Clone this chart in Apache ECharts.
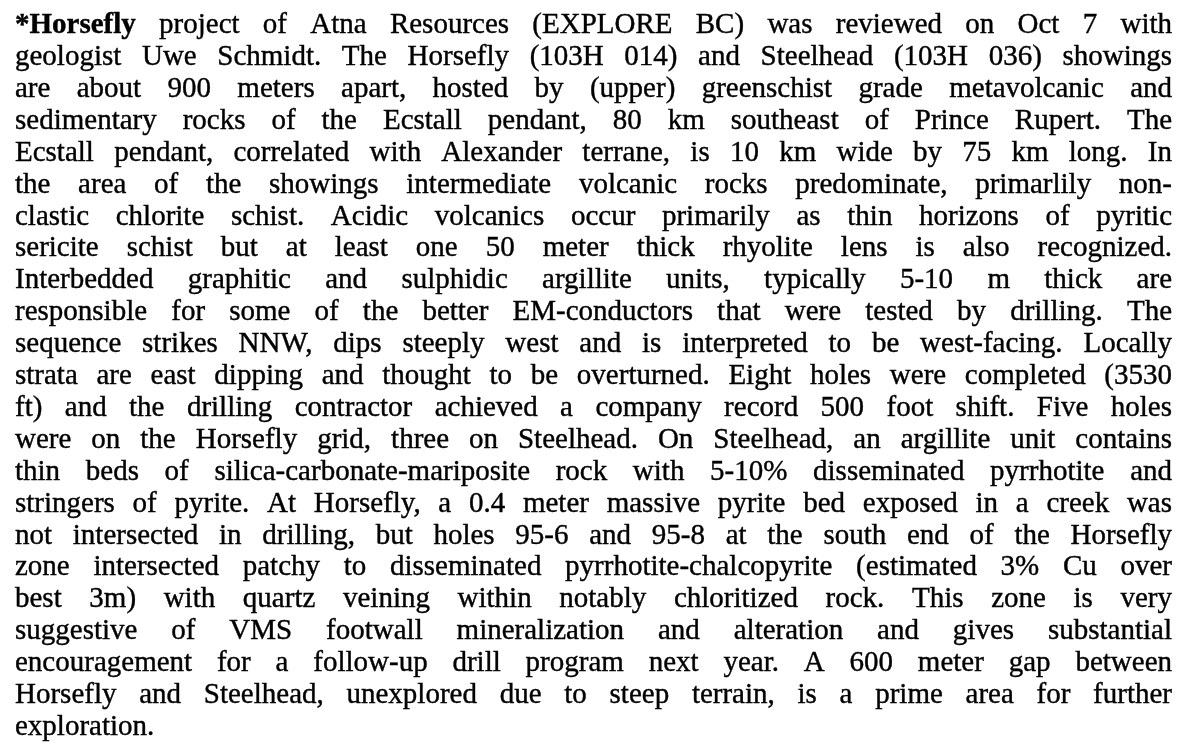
<!DOCTYPE html>
<html>
<head>
<meta charset="utf-8">
<script src="https://cdn.jsdelivr.net/npm/echarts@6/dist/echarts.min.js"></script>
<style>
  html, body { margin: 0; padding: 0; background: #fff; }
  #chart { width: 1183px; height: 744px; }
</style>
</head>
<body>
<div id="chart"></div>
<script>
// 段落的每一行（照原图换行）
const lines = [
  '*Horsefly project of Atna Resources (EXPLORE BC) was reviewed on Oct 7 with',
  'geologist Uwe Schmidt. The Horsefly (103H 014) and Steelhead (103H 036) showings',
  'are about 900 meters apart, hosted by (upper) greenschist grade metavolcanic and',
  'sedimentary rocks of the Ecstall pendant, 80 km southeast of Prince Rupert. The',
  'Ecstall pendant, correlated with Alexander terrane, is 10 km wide by 75 km long. In',
  'the area of the showings intermediate volcanic rocks predominate, primarlily non-',
  'clastic chlorite schist. Acidic volcanics occur primarily as thin horizons of pyritic',
  'sericite schist but at least one 50 meter thick rhyolite lens is also recognized.',
  'Interbedded graphitic and sulphidic argillite units, typically 5-10 m thick are',
  'responsible for some of the better EM-conductors that were tested by drilling. The',
  'sequence strikes NNW, dips steeply west and is interpreted to be west-facing. Locally',
  'strata are east dipping and thought to be overturned. Eight holes were completed (3530',
  'ft) and the drilling contractor achieved a company record 500 foot shift. Five holes',
  'were on the Horsefly grid, three on Steelhead. On Steelhead, an argillite unit contains',
  'thin beds of silica-carbonate-mariposite rock with 5-10% disseminated pyrrhotite and',
  'stringers of pyrite. At Horsefly, a 0.4 meter massive pyrite bed exposed in a creek was',
  'not intersected in drilling, but holes 95-6 and 95-8 at the south end of the Horsefly',
  'zone intersected patchy to disseminated pyrrhotite-chalcopyrite (estimated 3% Cu over',
  'best 3m) with quartz veining within notably chloritized rock. This zone is very',
  'suggestive of VMS footwall mineralization and alteration and gives substantial',
  'encouragement for a follow-up drill program next year. A 600 meter gap between',
  'Horsefly and Steelhead, unexplored due to steep terrain, is a prime area for further',
  'exploration.'
]
// 加粗的词
const boldWords = ['*Horsefly']

const left = 15
const right = 1172
const firstTop = 11
const lineGap = 31.9
const fontSize = 29
const family = "'Liberation Serif', 'DejaVu Serif', serif"

const ctx = document.createElement('canvas').getContext('2d')
const measure = (word, bold) => {
  ctx.font = (bold ? 'bold ' : '') + fontSize + 'px ' + family
  return ctx.measureText(word).width
}

const elements = []
lines.forEach((line, i) => {
  const words = line.split(' ')
  const isBold = (w, k) => i === 0 && k === 0 && boldWords.includes(w)
  const widths = words.map((w, k) => measure(w, isBold(w, k)))
  const total = widths.reduce((a, b) => a + b, 0)
  const last = i === lines.length - 1
  // 两端对齐，最后一行左对齐
  const gap = last || words.length < 2 ? measure(' ') : (right - left - total) / (words.length - 1)
  let x = left
  words.forEach((w, k) => {
    const bold = isBold(w, k)
    elements.push({
      type: 'text',
      x: x,
      y: firstTop + i * lineGap,
      style: {
        text: w,
        fill: '#000',
        stroke: '#000',
        lineWidth: 0.4,
        font: (bold ? 'bold ' : '') + fontSize + 'px ' + family,
        verticalAlign: 'top'
      }
    })
    x += widths[k] + gap
  })
})

const chart = echarts.init(document.getElementById('chart'))
chart.setOption({
  backgroundColor: '#fff',
  animation: false,
  graphic: { elements: elements }
})
</script>
</body>
</html>
